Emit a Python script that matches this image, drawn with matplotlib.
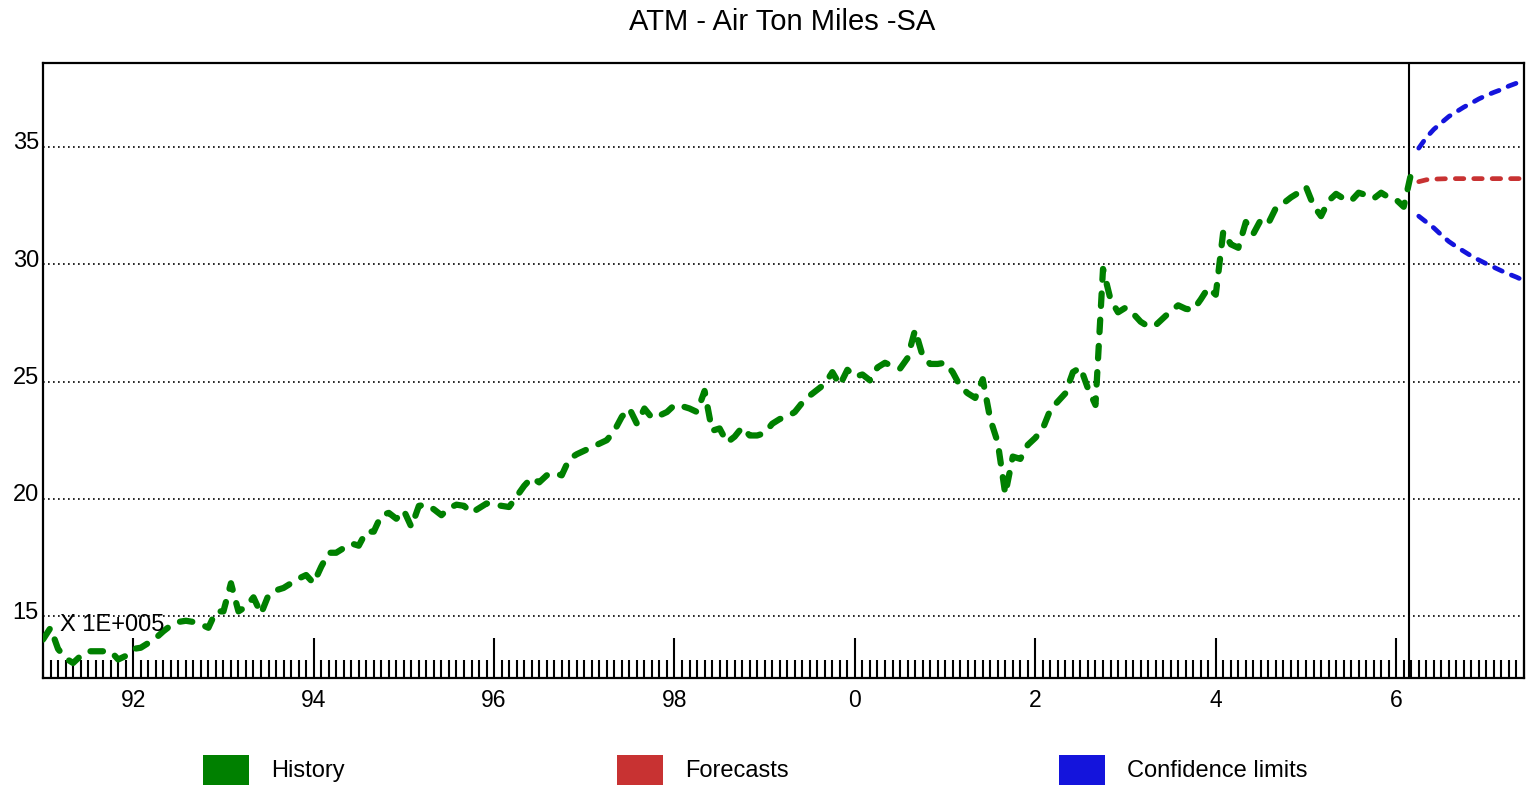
import numpy as np
import matplotlib
matplotlib.use("Agg")
import matplotlib.pyplot as plt
from matplotlib.patches import Rectangle
from matplotlib.ticker import FixedLocator, FixedFormatter
import matplotlib.transforms as mtransforms

plt.rcParams['font.family'] = ['Liberation Sans', 'DejaVu Sans']

# Monthly air ton miles (x 1E+005), seasonally adjusted, starting Jan 1991
start_year = 1991
history = [
    14.0, 14.5, 13.6, 13.2, 13.0, 13.3, 13.5, 13.5, 13.5, 13.5, 13.15, 13.3,      # 1991
    13.6, 13.65, 13.85, 14.06, 14.35, 14.6, 14.75, 14.8, 14.75, 14.65, 14.5, 15.2,  # 1992
    15.2, 16.4, 15.2, 15.4, 15.8, 15.1, 15.9, 16.1, 16.2, 16.4, 16.6, 16.75,      # 1993
    16.4, 17.1, 17.7, 17.7, 17.9, 18.1, 18.0, 18.6, 18.6, 19.3, 19.4, 19.15,      # 1994
    19.5, 18.8, 19.7, 19.75, 19.55, 19.3, 19.6, 19.75, 19.7, 19.4, 19.6, 19.8,    # 1995
    19.75, 19.7, 19.65, 20.1, 20.55, 20.9, 20.7, 21.0, 21.1, 21.0, 21.7, 21.9,    # 1996
    22.05, 22.2, 22.35, 22.5, 22.9, 23.5, 23.85, 23.2, 23.85, 23.45, 23.55, 23.7,  # 1997
    24.0, 23.95, 23.85, 23.7, 24.6, 22.9, 23.0, 22.4, 22.65, 23.05, 22.7, 22.7,   # 1998
    22.8, 23.2, 23.4, 23.5, 23.7, 24.1, 24.4, 24.65, 24.9, 25.4, 24.85, 25.5,     # 1999
    25.2, 25.3, 25.05, 25.6, 25.8, 25.65, 25.55, 26.0, 27.2, 26.1, 25.75, 25.75,  # 2000
    25.8, 25.4, 24.8, 24.5, 24.3, 25.1, 23.4, 22.4, 20.2, 21.8, 21.7, 22.3,       # 2001
    22.6, 23.0, 23.8, 24.15, 24.5, 25.4, 25.6, 24.7, 24.0, 29.8, 28.5, 27.95,     # 2002
    28.15, 27.9, 27.55, 27.35, 27.4, 27.7, 28.0, 28.25, 28.1, 28.05, 28.5, 29.0,  # 2003
    28.7, 31.4, 30.85, 30.7, 31.8, 31.3, 31.9, 31.75, 32.4, 32.6, 32.85, 33.05,   # 2004
    33.3, 32.5, 32.05, 32.7, 33.0, 32.8, 32.7, 33.05, 32.95, 32.8, 33.05, 32.85,  # 2005
    32.75, 32.45, 33.9,                                                           # 2006
]

# Forecast horizon (Apr 2006 - May 2007)
forecast = [33.52, 33.6, 33.63, 33.64, 33.65, 33.65, 33.65, 33.65,
            33.65, 33.65, 33.65, 33.65, 33.65, 33.65, 33.65]
upper = [34.95, 35.4, 35.75, 36.03, 36.3, 36.5, 36.7, 36.87,
         37.05, 37.2, 37.33, 37.45, 37.6, 37.72, 37.85]
lower = [32.05, 31.8, 31.55, 31.25, 30.97, 30.75, 30.55, 30.35,
         30.18, 30.02, 29.87, 29.72, 29.58, 29.45, 29.3]

major_years = [1992, 1994, 1996, 1998, 2000, 2002, 2004, 2006]
major_labels = ['92', '94', '96', '98', '0', '2', '4', '6']
y_ticks = [15, 20, 25, 30, 35]
legend_labels = ['History', 'Forecasts', 'Confidence limits']

GREEN = '#008000'
RED = '#C83232'
BLUE = '#1414DC'

n_hist = len(history)
t_hist = start_year + np.arange(n_hist) / 12.0
t_fc = start_year + (n_hist + np.arange(len(forecast))) / 12.0

fig = plt.figure(figsize=(15.26, 7.85), dpi=100)
ax = fig.add_axes([43 / 1526, 107 / 785, 1481 / 1526, 615 / 785])

x_min = start_year
x_max = t_fc[-1]
ax.set_xlim(x_min, x_max)
ax.set_ylim(12.36, 38.58)

# horizontal dotted grid
for yv in y_ticks:
    ax.axhline(yv, color='black', lw=1.2, linestyle=(0, (1, 2)), zorder=1)

# series
ax.plot(t_hist, history, color=GREEN, lw=4.5, dashes=(2.0, 2.2),
        dash_capstyle='round', solid_joinstyle='round', zorder=4)
ax.plot(t_fc, forecast, color=RED, lw=3.4, dashes=(1.8, 2.1),
        dash_capstyle='round', zorder=4)
ax.plot(t_fc, upper, color=BLUE, lw=3.4, dashes=(1.8, 2.1),
        dash_capstyle='round', zorder=4)
ax.plot(t_fc, lower, color=BLUE, lw=3.4, dashes=(1.8, 2.1),
        dash_capstyle='round', zorder=4)

# forecast origin
ax.axvline(start_year + (n_hist - 1.25) / 12.0, color='black', lw=1.5, zorder=3)

# spines
for s in ax.spines.values():
    s.set_linewidth(1.6)
    s.set_color('black')

# x ticks: monthly minor, biennial major, drawn inward
months = start_year + np.arange(0, int(round((x_max - x_min) * 12)) + 1) / 12.0
ax.xaxis.set_major_locator(FixedLocator(major_years))
ax.xaxis.set_major_formatter(FixedFormatter(major_labels))
ax.xaxis.set_minor_locator(FixedLocator(months))
ax.tick_params(axis='x', which='major', direction='in', length=29, width=1.5,
               labelsize=16.5, pad=8, colors='black')
ax.tick_params(axis='x', which='minor', direction='in', length=13, width=1.5)

# y ticks: labels only, sitting just above the grid lines
ax.set_yticks(y_ticks)
ax.set_yticklabels([str(v) for v in y_ticks])
ax.tick_params(axis='y', which='major', length=0, labelsize=17, pad=3)
offset = mtransforms.ScaledTranslation(0, 6 / 100, fig.dpi_scale_trans)
for lab in ax.get_yticklabels():
    lab.set_transform(lab.get_transform() + offset)

ax.text(17 / 1481, 53 / 615, 'X 1E+005', transform=ax.transAxes,
        ha='left', va='center', fontsize=17, zorder=5)

fig.text(782 / 1526, 1 - 22 / 785, 'ATM - Air Ton Miles -SA',
         ha='center', va='center', fontsize=21)

# legend along the bottom edge
legend_colors = [GREEN, RED, BLUE]
legend_x = [203, 617, 1059]
for lx, col, lab in zip(legend_x, legend_colors, legend_labels):
    fig.patches.append(Rectangle((lx / 1526, 0), 46 / 1526, 30 / 785,
                                 transform=fig.transFigure, facecolor=col,
                                 edgecolor='none'))
    fig.text((lx + 68) / 1526, 1 - 771 / 785, lab, ha='left', va='center',
             fontsize=17)

fig.savefig('out.png', dpi=100)
